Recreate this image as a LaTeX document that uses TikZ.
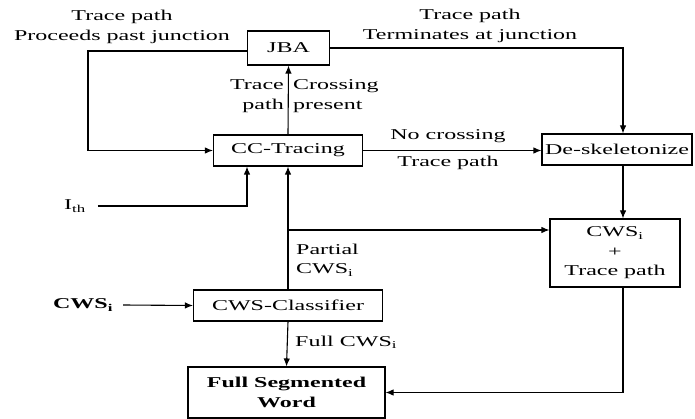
\documentclass[tikz,border=0pt]{standalone}
\usepackage{fontspec}
\setmainfont{Liberation Serif}[FakeStretch=1.6]
\usetikzlibrary{arrows.meta}
\tikzset{blk/.style={draw,line width=1.1pt,inner sep=0pt,align=center},
  arr/.style={-{Latex[length=8pt,width=6.5pt]},line width=1.1pt},
  every node/.style={font=\fontsize{15}{19.5}\selectfont}}
\begin{document}
\begin{tikzpicture}[x=1pt,y=-1pt]
\useasboundingbox (0,0) rectangle (695,419);
% blocks
\node[blk,minimum width=82pt,minimum height=34pt] (jba) at (288.5,48) {JBA};
\node[blk,minimum width=149pt,minimum height=31pt] (cc) at (288,150.5) {CC-Tracing};
\node[blk,minimum width=150pt,minimum height=31pt] (des) at (617,149.5) {De-skeletonize};
\node[blk,minimum width=130pt,minimum height=68pt] (cwt) at (615,253) {CWS\textsubscript{i}\\+\\Trace path};
\node[blk,minimum width=189pt,minimum height=31pt] (cls) at (288,305.5) {CWS-Classifier};
\node[blk,minimum width=197pt,minimum height=51pt] (fsw) at (286.5,392.5) {\bfseries Full Segmented\\\bfseries Word};
% inputs
\node[inner sep=0pt] (ith) at (75,206) {I\textsubscript{th}};
\node[inner sep=0pt] (cwsin) at (83,305) {\bfseries CWS\textsubscript{i}};
% corner points
\coordinate (lt) at (88,51);
\coordinate (rt) at (623,48);
\coordinate (br) at (288.5,230);
\coordinate (th) at (247,206);
% connectors
\draw[arr] (jba.west |- lt) -- (lt) |- (cc.west);
\draw[arr] (jba.east |- rt) -- (rt) -- (rt |- des.north);
\draw[arr] (cc.north) -- (jba.south);
\draw[arr] (cc.east) -- (des.west |- cc.east);
\draw[arr] (rt |- des.south) -- (rt |- cwt.north);
\draw[arr] ([xshift=12pt]ith.east) -- (th) -- (th |- cc.south);
\draw[arr] (cls.north) -- (cc.south);
\draw[arr] (br) -- (br -| cwt.west);
\draw[arr] (rt |- cwt.south) |- (fsw.east);
\draw[arr] (cls.south) -- (fsw.north);
\draw[arr] ([xshift=10pt]cwsin.east) -- (cls.west);
% labels
\draw (122,27) node[align=center] {Trace path\\Proceeds past junction};
\draw (470,26) node[align=center] {Trace path\\Terminates at junction};
\draw (284,96) node[anchor=east,align=right,inner sep=0pt] {Trace\\path};
\draw (293,96) node[anchor=west,align=left,inner sep=0pt] {Crossing\\present};
\draw (448,136) node {No crossing};
\draw (448,163) node {Trace path};
\draw (296,260) node[anchor=west,align=left,inner sep=0pt] {Partial\\CWS\textsubscript{i}};
\draw (295,342) node[anchor=west,inner sep=0pt] {Full CWS\textsubscript{i}};
\end{tikzpicture}
\end{document}
